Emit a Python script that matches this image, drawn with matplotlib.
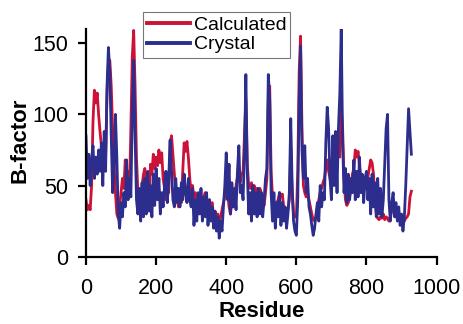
import numpy as np
import matplotlib
matplotlib.use("Agg")
import matplotlib.pyplot as plt

plt.rcParams['font.family'] = ['Liberation Sans', 'DejaVu Sans']

residue = np.arange(0, 929, 4)

calculated = [
    40, 33, 36, 33, 50, 95, 117, 108, 115, 100,
    88, 78, 62, 75, 70, 115, 135, 138, 120, 90,
    65, 45, 30, 27, 35, 45, 55, 48, 68, 52,
    60, 45, 90, 140, 159, 120, 70, 45, 40, 30,
    50, 58, 62, 45, 55, 40, 65, 58, 72, 62,
    70, 64, 75, 66, 73, 55, 48, 40, 55, 45,
    80, 85, 72, 60, 45, 40, 35, 45, 38, 60,
    80, 74, 81, 70, 55, 45, 50, 40, 45, 38,
    42, 33, 38, 30, 42, 45, 35, 30, 40, 35,
    38, 28, 32, 27, 30, 25, 28, 33, 38, 42,
    50, 45, 35, 30, 38, 35, 40, 50, 56, 58,
    52, 58, 60, 85, 110, 65, 50, 48, 52, 47,
    50, 45, 48, 44, 48, 45, 40, 36, 45, 55,
    110, 120, 60, 42, 35, 32, 38, 40, 45, 42,
    44, 35, 30, 28, 33, 40, 75, 45, 30, 28,
    28, 60, 130, 155, 90, 50, 45, 42, 44, 40,
    35, 30, 26, 25, 28, 35, 40, 45, 48, 52,
    55, 62, 68, 60, 55, 50, 55, 60, 64, 68,
    72, 70, 105, 90, 55, 40, 36, 38, 42, 50,
    58, 62, 75, 70, 74, 64, 55, 50, 46, 50,
    54, 56, 62, 68, 66, 58, 40, 30, 27, 26,
    28, 27, 30, 26, 28, 27, 25, 28, 32, 38,
    30, 28, 33, 30, 27, 26, 28, 25, 27, 28,
    30, 42, 46,
]

crystal = [
    85, 55, 72, 50, 68, 78, 55, 70, 58, 75,
    60, 80, 50, 88, 60, 120, 147, 130, 85, 45,
    62, 100, 70, 30, 20, 38, 28, 45, 35, 68,
    40, 55, 42, 100, 138, 85, 40, 30, 48, 25,
    52, 28, 55, 30, 60, 32, 50, 28, 58, 36,
    62, 40, 55, 30, 45, 35, 50, 60, 38, 55,
    82, 60, 40, 35, 55, 38, 48, 35, 52, 40,
    58, 45, 38, 55, 40, 35, 48, 22, 40, 25,
    45, 30, 48, 25, 42, 28, 45, 22, 40, 25,
    35, 20, 32, 18, 28, 13, 25, 18, 35, 50,
    73, 40, 65, 30, 52, 35, 48, 33, 60, 78,
    45, 50, 40, 72, 128, 60, 30, 45, 25, 50,
    30, 45, 28, 48, 30, 45, 28, 40, 55, 62,
    128, 110, 45, 25, 45, 20, 38, 28, 45, 22,
    38, 25, 35, 20, 30, 45, 97, 50, 25, 18,
    15, 40, 110, 148, 75, 55, 78, 45, 55, 35,
    30, 22, 15, 20, 30, 38, 25, 50, 35, 45,
    40, 80, 105, 90, 55, 40, 85, 50, 88, 45,
    90, 115, 160, 80, 45, 62, 38, 58, 40, 55,
    45, 68, 40, 60, 42, 70, 45, 58, 38, 55,
    60, 40, 55, 30, 58, 35, 52, 28, 55, 30,
    48, 28, 40, 65, 90, 100, 40, 25, 38, 45,
    28, 38, 25, 35, 22, 30, 18, 28, 50, 78,
    104, 88, 72,
]

fig = plt.figure(figsize=(4.63, 3.24), dpi=100)
ax = fig.add_axes([0.1857, 0.2077, 0.7573, 0.7028])

red = '#CC1236'
blue = '#2C2D8C'
ax.plot(residue, calculated, color=red, lw=2.0, label='Calculated')
ax.plot(residue, crystal, color=blue, lw=2.0, label='Crystal')

ax.set_xlim(0, 1000)
ax.set_ylim(0, 160)
ax.set_xticks([0, 200, 400, 600, 800, 1000])
ax.set_yticks([0, 50, 100, 150])
for s in ['top', 'right']:
    ax.spines[s].set_visible(False)
for s in ['left', 'bottom']:
    ax.spines[s].set_linewidth(1.6)
ax.tick_params(axis='x', direction='out', length=6, width=1.6, pad=9, labelsize=15.5)
ax.tick_params(axis='y', direction='out', length=6, width=1.6, pad=6.5, labelsize=15.5)

ax.set_xlabel('Residue', fontsize=16, fontweight='bold', va='center')
ax.set_ylabel('B-factor', fontsize=16, fontweight='bold', va='center')
ax.xaxis.set_label_coords(0.502, -0.242)
ax.yaxis.set_label_coords(-0.188, 0.51)

leg = ax.legend(loc='upper left', bbox_to_anchor=(0.308, 0.964),
                bbox_transform=fig.transFigure, fontsize=14, frameon=True,
                fancybox=False, handlelength=2.2, handletextpad=0.2,
                labelspacing=0.12, borderpad=0.22, borderaxespad=0)
leg.get_frame().set_edgecolor('#555555')
leg.get_frame().set_linewidth(0.8)
for l in leg.get_lines():
    l.set_linewidth(2.8)

fig.savefig('out.png', dpi=100)
